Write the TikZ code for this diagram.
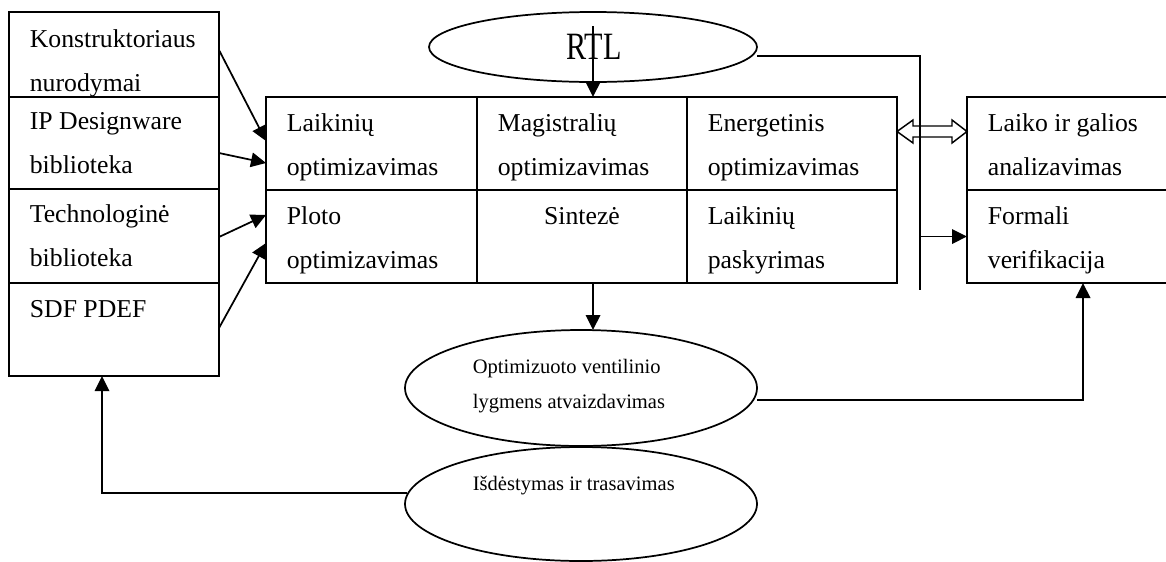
\documentclass[tikz,border=0pt]{standalone}
\usepackage{fontspec}
\setmainfont{Liberation Serif}
\usetikzlibrary{shapes.geometric,arrows.meta,calc}

% two lines of text whose reference point is the baseline of the first line
\newcommand\twoline[3][33pt]{\vtop{\baselineskip=#1\lineskiplimit=-100pt\hbox{#2}\hbox{#3}}}

\begin{document}
\begin{tikzpicture}[x=0.75pt,y=-0.75pt,
  line width=1.3pt,
  cell/.style={draw, rectangle, inner sep=0pt, outer sep=0pt, anchor=north west},
  oval/.style={draw, ellipse, inner sep=0pt, outer sep=0pt},
  lbl/.style={inner sep=0pt, anchor=base west, font=\fontsize{19.3}{23}\selectfont},
  clbl/.style={lbl, anchor=base},
  small/.style={inner sep=0pt, anchor=base west, font=\fontsize{15.4}{18}\selectfont},
  arr/.style={-{Triangle[length=11.25pt,width=10.9pt]}}
]
\useasboundingbox (0,0) rectangle (1166,561);
\clip (0,0) rectangle (1166,561);

% input column
\node[cell, minimum width=157.5pt, minimum height=63.75pt] (L1) at (9,12) {};
\node[cell, minimum width=157.5pt, minimum height=69pt]    (L2) at (9,97) {};
\node[cell, minimum width=157.5pt, minimum height=70.5pt]  (L3) at (9,189) {};
\node[cell, minimum width=157.5pt, minimum height=69.75pt] (L4) at (9,283) {};
\node[lbl] (tL1) at ($(L1.north west)+(20,35)$) {\twoline{Konstruktoriaus}{nurodymai}};
\node[lbl] (tL2) at ($(L2.north west)+(20,32)$) {\twoline{IP Designware}{biblioteka}};
\node[lbl] (tL3) at ($(L3.north west)+(20,33)$) {\twoline{Technologinė}{biblioteka}};
\node[lbl] (tL4) at ($(L4.north west)+(20,34)$) {SDF PDEF};

% synthesis block
\node[cell, minimum width=158.25pt, minimum height=69.75pt] (m11) at (266,97) {};
\node[cell, minimum width=157.5pt,  minimum height=69.75pt] (m12) at (477,97) {};
\node[cell, minimum width=157.5pt,  minimum height=69.75pt] (m13) at (687,97) {};
\node[cell, minimum width=158.25pt, minimum height=69.75pt] (m21) at (266,190) {};
\node[cell, minimum width=157.5pt,  minimum height=69.75pt] (m22) at (477,190) {};
\node[cell, minimum width=157.5pt,  minimum height=69.75pt] (m23) at (687,190) {};
\node[lbl] (t11) at ($(m11.north west)+(20,34)$) {\twoline{Laikinių}{optimizavimas}};
\node[lbl] (t12) at ($(m12.north west)+(20,34)$) {\twoline{Magistralių}{optimizavimas}};
\node[lbl] (t13) at ($(m13.north west)+(20,34)$) {\twoline{Energetinis}{optimizavimas}};
\node[lbl] (t21) at ($(m21.north west)+(20,34)$) {\twoline{Ploto}{optimizavimas}};
\node[clbl] (t22) at ($(m22.north)+(0,34)$) {Sintezė};
\node[lbl] (t23) at ($(m23.north west)+(20,34)$) {\twoline{Laikinių}{paskyrimas}};

% analysis column
\node[cell, minimum width=159.75pt, minimum height=69.75pt] (r1) at (967,97) {};
\node[cell, minimum width=159.75pt, minimum height=69.75pt] (r2) at (967,190) {};
\node[lbl] (tr1) at ($(r1.north west)+(20,34)$) {\twoline{Laiko ir galios}{analizavimas}};
\node[lbl] (tr2) at ($(r2.north west)+(20,34)$) {\twoline{Formali}{verifikacija}};

% ellipses
\node[oval, minimum width=246pt, minimum height=52.5pt] (rtl) at (593,47) {};
\node[inner sep=0pt, anchor=base] (trtl) at (594,59)
  {\scalebox{0.78}[1]{\fontsize{29}{32}\selectfont RTL}};
\node[oval, minimum width=264pt, minimum height=87pt] (opt) at (581,388) {};
\node[small] (topt) at (472,373)
  {\twoline[26.25pt]{Optimizuoto ventilinio}{lygmens atvaizdavimas}};
\node[oval, minimum width=264pt, minimum height=85.5pt] (isd) at (581,504) {};
\node[small] (tisd) at (472,490) {Išdėstymas ir trasavimas};

% RTL into the synthesis block
\coordinate (rtlin) at (593,26);
\draw[arr] (rtlin) -- (rtlin |- m12.north);

% RTL to the verification bus
\coordinate (bus) at (920,290);
\draw ($(rtl.east)+(0,9)$) -| (bus);
\draw[arr] (r2.west -| bus) -- (r2.west);

% two-way link between the block and the analysis
\coordinate (dl) at ($(m13.north east)+(0,34.5)$);
\coordinate (dr) at (r1.west |- dl);
\draw[line width=1.1pt, line join=miter]
  (dl) -- ++(16,-11.5) -- ++(0,6) -- ($(dr)+(-15,-5.5)$) -- ++(0,-6) -- (dr)
  -- ++(-15,11.5) -- ++(0,-6) -- ($(dl)+(16,5.5)$) -- ++(0,6) -- cycle;

% inputs into the synthesis block
\draw[arr] ($(L1.east)+(0,-4.5)$) -- ($(m11.west)+(0,-2.5)$);
\draw[arr] ($(L2.east)+(0,10)$)   -- ($(m11.west)+(0,19.5)$);
\draw[arr] ($(L3.east)+(0,1)$)    -- ($(m21.west)+(0,-21.5)$);
\draw[arr] ($(L4.east)+(0,-1.5)$) -- ($(m21.west)+(0,6.5)$);

% synthesis output to the gate level netlist
\draw[arr] (m22.south -| rtlin) -- (rtlin |- opt.north);

% netlist to formal verification
\draw[arr] ($(opt.east)+(0,12)$) -| ($(r2.south west)+(116,0)$);

% layout back to the inputs
\draw[arr] ($(isd.west)+(2,-11)$) -| ($(L4.south west)+(93,0)$);
\end{tikzpicture}
\end{document}
